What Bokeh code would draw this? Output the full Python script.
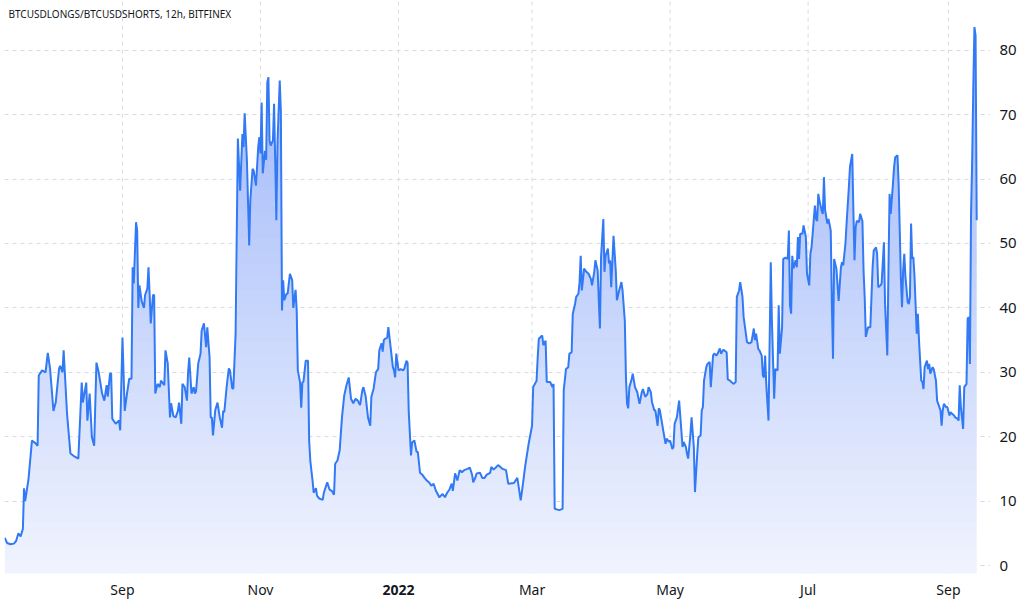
import numpy as np
import pandas as pd
from bokeh.plotting import figure
from bokeh.models import Label, FixedTicker, Range1d
from bokeh.embed import file_html
from bokeh.resources import INLINE

# ---------------- data ----------------
title_text = "BTCUSDLONGS/BTCUSDSHORTS, 12h, BITFINEX"
series_start = "2021-07-11"   # day_offset counts days (12h bars) from this date

day_offset = [
    0, 1, 2.5, 4, 5, 6, 7, 8, 8.5, 9, 10.5, 12, 13.5, 14.5, 15, 16.5, 18, 19, 20, 21.5,
    22.5, 24, 24.5, 25.5, 26, 27.5, 29, 30.5, 32.5, 34, 34.5, 36, 36.5, 37.5, 38.5, 39.5, 40.5, 41.5, 43, 44,
    45, 45.5, 46.5, 47, 47.5, 49, 50.5, 51, 52, 53, 54, 55, 56, 56.5, 57, 58, 58.5, 59, 59.5, 60.5,
    61.5, 62, 63, 63.5, 64, 64.5, 65.5, 66, 66.5, 67.5, 68.5, 69, 70.5, 71, 72, 73, 73.5, 74.5, 75.5, 76.5,
    77, 78, 78.5, 79.5, 80.5, 81, 81.5, 82.5, 83.5, 84, 84.5, 85.5, 86.5, 87, 88, 89, 89.5, 90.5, 91, 91.5,
    92, 93, 94, 95, 96, 96.5, 97, 98, 99, 99.5, 100.5, 101, 102, 103, 104, 105, 105.5, 106, 107, 108,
    108.5, 109.5, 110, 111, 112, 112.5, 113, 113.5, 114, 115, 115.5, 116, 116.5, 117, 117.5, 118.5, 119, 120, 120.5, 121.5,
    122, 122.5, 123, 123.5, 124.5, 125, 126, 127, 127.5, 128.5, 129, 129.5, 130.5, 131, 131.5, 132, 133, 134, 134.5, 135,
    136, 136.5, 137.5, 138, 139, 140.5, 141, 142.5, 143.5, 144.5, 145.5, 146, 147, 148, 149, 150, 151, 152, 153, 154,
    155, 156, 157, 158, 158.5, 159.5, 160.5, 161.5, 162, 163, 164, 165, 165.5, 166.5, 167, 167.5, 168, 169, 169.5, 170.5,
    171.5, 172, 172.5, 173, 174, 175, 176, 176.5, 177.5, 178, 178.5, 179.5, 180, 181, 182, 182.5, 183.5, 184.5, 185.5, 186.5,
    187.5, 188.5, 189.5, 190.5, 191, 192, 193.5, 194.5, 195.5, 196.5, 197.5, 198, 199, 200, 201, 202, 203, 204.5, 205.5, 206.5,
    207, 208, 208.5, 210, 211, 212, 213, 214.5, 215, 216, 217, 218, 219, 220, 221.5, 222.5, 225, 226.5, 228, 229,
    230, 231.5, 233, 233.5, 235, 235.5, 236, 237.5, 238, 239, 239.5, 241, 242, 242.5, 243, 245, 246.5, 247, 248, 249,
    249.5, 250.5, 251, 252, 252.5, 253.5, 254, 254.5, 255, 256, 257, 258, 259, 259.5, 260.5, 261, 262, 262.5, 263, 263.5,
    264.5, 265, 265.5, 266.5, 267, 267.5, 268, 269, 270, 270.5, 271.5, 272.5, 273, 274, 274.5, 275, 275.5, 276, 277, 277.5,
    278.5, 279.5, 280.5, 281.5, 282, 283, 284, 284.5, 285.5, 286, 287, 287.5, 288.5, 289, 289.5, 290.5, 291, 292, 292.5, 293.5,
    294, 295, 295.5, 296, 297, 298, 299, 299.5, 300, 301, 301.5, 302, 303, 303.5, 304.5, 305, 306, 306.5, 307.5, 308,
    308.5, 309, 310, 310.5, 311.5, 312, 313, 313.5, 314.5, 315, 316, 316.5, 317.5, 318, 319, 319.5, 320.5, 322, 323, 323.5,
    324.5, 325, 326, 326.5, 327.5, 328, 329, 330, 331, 331.5, 332, 333, 333.5, 334.5, 335, 335.5, 336, 336.5, 337.5, 338.5,
    339, 340, 340.5, 341.5, 342, 342.5, 343.5, 344, 345, 346, 346.5, 347, 347.5, 348, 348.5, 349.5, 350, 350.5, 351, 351.5,
    352.5, 353, 354, 354.5, 355.5, 356, 356.5, 357, 358, 358.5, 359, 359.5, 360, 361, 361.5, 362, 362.5, 363.5, 364, 365,
    365.5, 366, 366.5, 367.5, 368.5, 369.5, 370, 370.5, 371.5, 372, 373, 373.5, 374.5, 375, 375.5, 376, 376.5, 377.5, 378, 379,
    379.5, 380, 380.5, 381.5, 382.5, 383, 383.5, 384, 385, 385.5, 386, 387, 387.5, 388.5, 389, 390, 390.5, 391, 391.5, 392.5,
    393, 393.5, 394.5, 395, 395.5, 396, 396.5, 397, 397.5, 398, 399, 399.5, 400, 400.5, 401, 401.5, 402, 403, 403.5, 404,
    404.5, 405, 405.5, 406, 406.5, 407.5, 408, 408.5, 409, 410, 410.5, 411.5, 412, 413, 413.5, 414, 414.5, 415, 416, 416.5,
    417.5, 418, 418.5, 419.5, 420, 421, 421.5, 422, 422.5, 423.5, 424, 425, 425.5, 426, 426.5, 427, 427.5, 428, 428.5, 429,
    429.5,
]

ratio = [
    4.3, 3.5, 3.3, 3.4, 3.8, 5.0, 4.5, 5.7, 12.0, 10.0, 13.5, 19.4, 19.0, 18.6, 29.5, 30.3, 30.0, 33.0, 30.6, 24.0,
    25.3, 30.6, 31.0, 30.0, 33.4, 23.6, 17.4, 17.0, 16.6, 28.4, 25.3, 28.4, 22.5, 26.7, 19.9, 18.6, 31.5, 30.0, 26.7, 25.6,
    28.0, 26.2, 29.8, 29.8, 22.8, 22.0, 22.5, 21.0, 35.4, 24.0, 26.7, 29.0, 29.0, 46.3, 43.8, 53.3, 52.0, 40.0, 43.5, 41.0,
    40.0, 42.0, 43.0, 46.3, 42.2, 37.6, 42.0, 42.0, 26.7, 28.2, 27.7, 28.7, 28.0, 33.4, 31.4, 23.0, 25.2, 23.2, 23.0, 24.0,
    25.3, 22.0, 28.2, 27.7, 25.6, 30.0, 32.3, 26.7, 27.7, 26.7, 27.0, 31.4, 32.9, 36.5, 37.6, 33.9, 37.0, 32.3, 23.0, 23.0,
    20.2, 24.1, 25.3, 23.0, 21.4, 24.0, 23.8, 27.6, 30.6, 30.3, 27.5, 27.5, 36.0, 66.3, 58.2, 67.0, 65.0, 70.2, 62.9, 49.7,
    56.7, 61.6, 61.3, 59.0, 65.0, 66.5, 64.0, 71.9, 60.9, 64.4, 63.0, 75.0, 75.8, 66.0, 65.2, 66.0, 71.7, 53.6, 65.5, 75.3,
    70.5, 39.6, 44.3, 41.2, 42.2, 42.2, 45.3, 44.3, 40.0, 42.8, 39.6, 30.3, 28.4, 24.5, 28.4, 28.6, 31.8, 31.8, 19.4, 16.3,
    13.2, 11.3, 12.0, 10.8, 10.4, 10.2, 11.3, 12.9, 11.8, 11.6, 11.0, 15.8, 16.3, 17.9, 23.0, 26.4, 28.0, 29.2, 25.9, 25.2,
    25.9, 25.6, 24.9, 27.2, 27.7, 26.2, 23.0, 21.7, 26.2, 27.5, 30.0, 30.5, 33.4, 34.5, 33.2, 35.0, 35.2, 35.4, 37.0, 33.9,
    30.8, 30.3, 29.2, 32.9, 30.3, 30.5, 30.3, 30.5, 31.8, 31.5, 24.0, 17.1, 19.1, 19.4, 17.6, 17.7, 14.4, 14.1, 13.6, 13.2,
    12.9, 12.4, 12.7, 11.6, 11.3, 10.6, 11.1, 10.6, 11.3, 11.8, 12.7, 11.6, 14.3, 13.2, 14.8, 14.5, 14.8, 15.0, 15.2, 14.1,
    12.9, 13.7, 14.3, 14.4, 13.6, 13.6, 14.1, 14.4, 15.3, 14.9, 15.2, 15.6, 15.3, 15.0, 14.8, 12.7, 12.8, 13.6, 10.1, 12.7,
    15.5, 18.9, 21.7, 27.7, 28.7, 32.3, 35.2, 35.7, 34.2, 34.9, 28.5, 28.5, 27.7, 28.2, 8.8, 8.6, 8.8, 27.2, 30.5, 30.8,
    32.9, 33.1, 39.1, 40.6, 41.7, 42.2, 44.0, 48.1, 42.7, 46.1, 45.6, 45.3, 44.5, 43.5, 45.6, 47.4, 45.8, 41.2, 36.8, 47.9,
    53.8, 45.6, 48.1, 49.2, 46.9, 47.4, 43.2, 51.2, 45.8, 41.2, 42.7, 44.0, 42.7, 38.0, 29.2, 25.1, 24.4, 27.7, 28.9, 29.8,
    27.7, 26.9, 25.1, 26.9, 27.4, 26.2, 26.6, 27.7, 26.9, 25.4, 24.1, 24.1, 21.7, 24.4, 24.1, 22.0, 20.9, 18.9, 19.7, 19.2,
    19.4, 18.1, 18.4, 22.0, 23.0, 25.6, 20.9, 18.4, 19.2, 18.4, 17.3, 16.6, 20.4, 23.0, 18.4, 11.4, 17.3, 19.9, 20.2, 24.1,
    24.6, 28.7, 30.8, 31.3, 31.6, 27.7, 32.6, 32.9, 32.6, 32.9, 33.7, 32.9, 33.5, 33.4, 33.1, 28.9, 28.7, 28.2, 28.5, 41.7,
    42.7, 44.0, 41.7, 38.6, 36.0, 34.7, 34.5, 34.7, 36.8, 35.0, 36.0, 33.6, 33.4, 32.6, 29.5, 29.2, 32.6, 28.2, 22.5, 47.1,
    38.0, 25.9, 30.5, 30.3, 40.4, 32.9, 37.0, 47.6, 47.8, 47.6, 52.0, 40.4, 39.1, 48.1, 46.1, 47.4, 46.3, 51.0, 47.6, 51.5,
    51.5, 52.8, 51.0, 45.3, 43.5, 48.4, 49.4, 51.5, 55.9, 53.8, 53.5, 57.7, 56.7, 55.1, 54.6, 60.3, 55.2, 53.1, 53.8, 52.0,
    40.6, 32.1, 47.6, 46.1, 41.1, 46.3, 47.1, 46.6, 50.0, 53.1, 58.7, 61.9, 63.9, 55.2, 47.4, 52.5, 53.5, 53.3, 54.6, 53.5,
    45.8, 41.7, 35.5, 37.0, 37.0, 41.7, 46.3, 48.9, 49.4, 48.4, 43.2, 43.5, 43.8, 50.2, 40.6, 32.6, 45.8, 57.7, 54.6, 59.3,
    61.9, 63.4, 63.7, 59.3, 52.0, 44.5, 40.1, 45.8, 48.4, 44.9, 40.9, 40.6, 41.7, 53.1, 47.6, 47.9, 45.0, 36.0, 39.1, 35.0,
    31.8, 28.7, 28.5, 27.4, 30.8, 31.8, 30.5, 31.3, 29.8, 30.8, 30.5, 28.7, 25.6, 24.6, 24.1, 21.7, 24.1, 25.1, 24.6, 24.6,
    23.3, 23.8, 23.6, 23.3, 23.0, 22.8, 22.5, 28.0, 24.6, 21.2, 27.7, 28.2, 38.3, 38.6, 31.3, 54.6, 62.9, 74.3, 83.6, 82.3,
    53.6,
]

tick_dates = ["2021-09-01", "2021-11-01", "2022-01-01", "2022-03-01", "2022-05-01", "2022-07-01", "2022-09-01"]
tick_labels = ["Sep", "Nov", "2022", "Mar", "May", "Jul", "Sep"]
y_ticks = [0, 10, 20, 30, 40, 50, 60, 70, 80]

view_days = (-0.13, 435.6)   # visible span, in days from series_start
pane_values = (-1.24, 87.73)  # value span of the price pane
below_values = -6.21          # value at the bottom of the page (time-scale strip)

# ---------------- styling ----------------
LINE = "#3179F5"
BOTTOM_RGB = (241, 244, 254)
TOP_RGB = (150, 177, 249)
TEXT = "#131722"
GRID = "#d6d9e0"
FONT = "Noto Sans"
FRAME_H = 605

start = pd.Timestamp(series_start)
dates = start + pd.to_timedelta(day_offset, unit="D")
x_ms = np.asarray(dates.values.astype("datetime64[ms]").astype("int64"), dtype=float)
v = np.asarray(ratio, dtype=float)

x0 = (start + pd.Timedelta(days=view_days[0])).value / 1e6
x1 = (start + pd.Timedelta(days=view_days[1])).value / 1e6
lo_v, hi_v = pane_values

p = figure(
    x_axis_type="datetime",
    y_axis_location="right",
    frame_width=986,
    frame_height=FRAME_H,
    x_range=Range1d(x0, x1),
    y_range=Range1d(below_values, hi_v),
    output_backend="svg",
    toolbar_location=None,
    min_border_left=4,
    min_border_top=0,
    min_border_right=4,
    min_border_bottom=0,
)
p.extra_y_ranges = {"page": Range1d(FRAME_H, 0)}
p.background_fill_color = "white"
p.border_fill_color = "white"
p.outline_line_color = None

# vertical grid lines (only over the price pane)
tick_ms = [pd.Timestamp(d).value / 1e6 for d in tick_dates]
p.segment(x0=tick_ms, x1=tick_ms, y0=[lo_v] * len(tick_ms), y1=[hi_v] * len(tick_ms),
          line_color="#d9dce3", line_dash="4 4", line_width=1)

# gradient-like fill made of horizontal bands under the series
levels = np.arange(lo_v, hi_v + 2.0, 2.0)
for lo, hi in zip(levels[:-1], levels[1:]):
    mid = 0.5 * (lo + hi)
    t = min(max((mid - lo_v) / (hi_v - lo_v), 0.0), 1.0)
    rgb = tuple(int(round(b + (tp - b) * t)) for b, tp in zip(BOTTOM_RGB, TOP_RGB))
    color = "#%02x%02x%02x" % rgb
    p.varea(x=x_ms, y1=np.minimum(v, lo), y2=np.minimum(v, hi + 0.2), fill_color=color, fill_alpha=1.0)

p.line(x_ms, v, line_color=LINE, line_width=2)

# time-scale labels (drawn as text in the strip under the pane)
reg = [(ms, lab) for ms, lab in zip(tick_ms, tick_labels) if not lab.isdigit()]
yrs = [(ms, lab) for ms, lab in zip(tick_ms, tick_labels) if lab.isdigit()]
p.text(x=[r[0] for r in reg], y=[589] * len(reg), text=[r[1] for r in reg], y_range_name="page",
       text_align="center", text_baseline="middle", text_font_size="14px", text_color=TEXT,
       text_font={"value": FONT})
p.text(x=[r[0] for r in yrs], y=[589] * len(yrs), text=[r[1] for r in yrs], y_range_name="page",
       text_align="center", text_baseline="middle", text_font_size="14px", text_color=TEXT,
       text_font={"value": FONT}, text_font_style="bold")

p.xaxis.visible = False
p.xgrid.visible = False

ax = p.yaxis
ax.ticker = FixedTicker(ticks=y_ticks)
ax.axis_line_color = None
ax.major_tick_line_color = None
ax.minor_tick_line_color = None
ax.major_label_text_font = FONT
ax.major_label_text_font_size = "15px"
ax.major_label_text_color = TEXT
ax.major_label_standoff = 3

p.ygrid.ticker = FixedTicker(ticks=y_ticks)
p.ygrid.grid_line_color = GRID
p.ygrid.grid_line_dash = "4 4"
p.ygrid.grid_line_width = 1

p.add_layout(Label(x=4, y=FRAME_H - 13, x_units="screen", y_units="screen", text=title_text,
                   text_baseline="middle", text_align="left", text_font=FONT,
                   text_font_size="10px", text_color=TEXT))

open("out.html", "w").write(file_html(p, INLINE))
